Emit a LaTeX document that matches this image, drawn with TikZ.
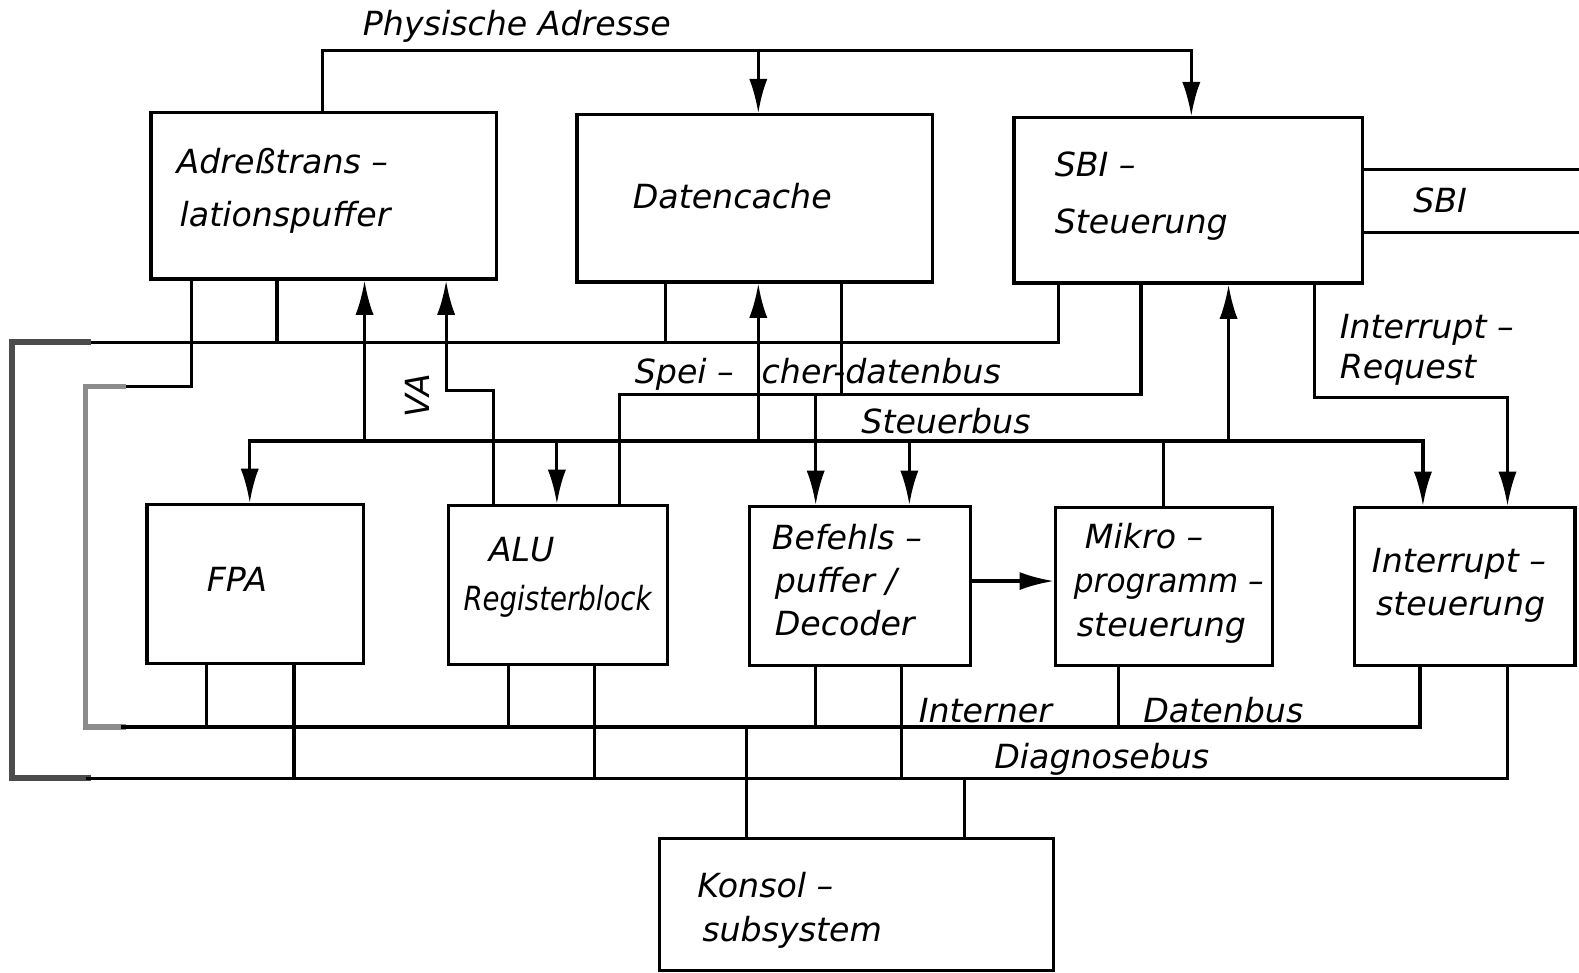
\documentclass[tikz,border=0pt]{standalone}
\usepackage{fontspec}
\newfontfamily\dfont{DejaVu Sans Oblique}
\usetikzlibrary{arrows.meta,fit}
\begin{document}
\begin{tikzpicture}[x=0.5pt,y=-0.5pt,
  ln/.style={line width=1.6pt, line join=miter},
  arr/.style={ln,-{Latex[length=17pt,width=9pt]}},
  box/.style={draw, line width=1.6pt, inner sep=0pt, fit={#1}},
  lbl/.style={font=\dfont\fontsize{16.5}{20}\selectfont, inner sep=0pt, anchor=base west},
  shadeA/.style={line width=3pt, draw=black!70, line join=miter},
  shadeB/.style={line width=2.6pt, draw=black!45, line join=miter},
]
\path[use as bounding box, clip] (0,0) rectangle (1568,966);
\fill[white] (0,0) rectangle (1568,966);

% boxes
\node[box={(150,112) (493,277)}] (atl) {};
\node[box={(573,114) (926,280)}] (dc) {};
\node[box={(1007,117) (1353,281)}] (sbi) {};
\node[box={(146,501) (361,659)}] (fpa) {};
\node[box={(445,502) (663,660)}] (alu) {};
\node[box={(744,503) (964,661)}] (bd) {};
\node[box={(1048,504) (1264,661)}] (mp) {};
\node[box={(1345,504) (1564,661)}] (int) {};
\node[box={(655,833) (1046,964)}] (kon) {};

% box texts
\node[lbl] (t1) at (175,172) {Adreßtrans –};
\node[lbl] (t2) at (178,225) {lationspuffer};
\node[lbl] (t3) at (628,207) {Datencache};
\node[lbl] (t4) at (1047,175) {SBI –};
\node[lbl] (t5) at (1047,232) {Steuerung};
\node[lbl] (t6) at (205,587) {FPA};
\node[lbl] (t7) at (485,558) {ALU};
\node[lbl, xscale=0.83] (t8) at (460,606) {Registerblock};
\node[lbl] (t9) at (766,546) {Befehls –};
\node[lbl] (t10) at (769,588) {puffer /};
\node[lbl] (t11) at (769,631) {Decoder};
\node[lbl] (t12) at (1077,545) {Mikro –};
\node[lbl, xscale=0.94] (t13) at (1066,588) {programm –};
\node[lbl] (t14) at (1069,632) {steuerung};
\node[lbl] (t15) at (1362,568) {Interrupt –};
\node[lbl] (t16) at (1366,611) {steuerung};
\node[lbl] (t17) at (692,891) {Konsol –};
\node[lbl] (t18) at (697,935) {subsystem};

% bus labels
\node[lbl] (l1) at (360,35) {Physische Adresse};
\node[lbl] (l2) at (1403,211) {SBI};
\node[lbl] (l3) at (1330,336) {Interrupt –};
\node[lbl] (l4) at (1330,376) {Request};
\node[lbl] (l5) at (630,381) {Spei –};
\node[lbl] (l6) at (756,381) {cher-datenbus};
\node[lbl] (l7) at (855,430) {Steuerbus};
\node[lbl, rotate=90, anchor=center] (l8) at (414,393) {VA};
\node[lbl] (l9) at (912,717) {Interner};
\node[lbl] (l10) at (1135,717) {Datenbus};
\node[lbl] (l11) at (987,763) {Diagnosebus};

% bus level coordinates
\coordinate (pa) at (0,50);
\coordinate (dtop) at (0,340);
\coordinate (sdb) at (0,392);
\coordinate (irq) at (0,395);
\coordinate (sb) at (0,438);
\coordinate (idb) at (0,722);
\coordinate (dgb) at (0,773);
\coordinate (ext1) at (1568,168);
\coordinate (ext2) at (1568,231);

% Physische Adresse
\draw[arr] (atl.north -| 320,0) -- (320,0 |- pa) -- (1183,0 |- pa) -- (sbi.north -| 1183,0);
\draw[arr] (753,0 |- pa) -- (dc.north -| 753,0);

% SBI external
\draw[ln] (sbi.east |- ext1) -- (ext1);
\draw[ln] (sbi.east |- ext2) -- (ext2);

% upper diagnose bus
\draw[ln] (sbi.south -| 1051,0) -- (1051,0 |- dtop) -- (60,0 |- dtop);
\draw[ln] (atl.south -| 275,0) -- (275,0 |- dtop);
\draw[ln] (dc.south -| 661,0) -- (661,0 |- dtop);
\draw[shadeA] (90,0 |- dtop) -- (12,0 |- dtop) -- (12,0 |- dgb) -- (90,0 |- dgb);

% ATL -> interner Datenbus
\draw[ln] (atl.south -| 190,0) -- (190,384) -- (120,384);
\draw[shadeB] (125,384) -- (85,384) -- (85,0 |- idb) -- (125,0 |- idb);
\draw[ln] (120,0 |- idb) -- (1410,0 |- idb) -- (int.south -| 1410,0);
\draw[ln] (fpa.south -| 205,0) -- (205,0 |- idb);
\draw[ln] (alu.south -| 505,0) -- (505,0 |- idb);
\draw[ln] (bd.south -| 810,0) -- (810,0 |- idb);
\draw[ln] (mp.south -| 1111,0) -- (1111,0 |- idb);
\draw[ln] (741,0 |- idb) -- (kon.north -| 741,0);

% Diagnosebus
\draw[ln] (85,0 |- dgb) -- (1497,0 |- dgb) -- (int.south -| 1497,0);
\draw[ln] (fpa.south -| 292,0) -- (292,0 |- dgb);
\draw[ln] (alu.south -| 590,0) -- (590,0 |- dgb);
\draw[ln] (bd.south -| 895,0) -- (895,0 |- dgb);
\draw[ln] (958,0 |- dgb) -- (kon.north -| 958,0);

% Steuerbus
\draw[arr] (1000,0 |- sb) -- (248,0 |- sb) -- (fpa.north -| 248,0);
\draw[arr] (1000,0 |- sb) -- (1413,0 |- sb) -- (int.north -| 1413,0);
\draw[arr] (553,0 |- sb) -- (alu.north -| 553,0);
\draw[arr] (903,0 |- sb) -- (bd.north -| 903,0);
\draw[arr] (362,0 |- sb) -- (atl.south -| 362,0);
\draw[arr] (753,0 |- sb) -- (dc.south -| 753,0);
\draw[arr] (1220,0 |- sb) -- (sbi.south -| 1220,0);
\draw[ln] (mp.north -| 1155,0) -- (1155,0 |- sb);

% VA
\draw[arr] (alu.north -| 490,0) -- (490,388) -- (443,388) -- (atl.south -| 443,0);

% Speicherdatenbus
\draw[ln] (dc.south -| 836,0) -- (836,0 |- sdb);
\draw[ln] (alu.north -| 615,0) -- (615,0 |- sdb) -- (1133,0 |- sdb) -- (sbi.south -| 1133,0);
\draw[arr] (810,0 |- sdb) -- (bd.north -| 810,0);

% Interrupt-Request
\draw[arr] (sbi.south -| 1305,0) -- (1305,0 |- irq) -- (1497,0 |- irq) -- (int.north -| 1497,0);

% Befehlspuffer -> Mikroprogramm
\draw[arr] (bd.east |- 0,577) -- (mp.west |- 0,577);
\end{tikzpicture}
\end{document}
